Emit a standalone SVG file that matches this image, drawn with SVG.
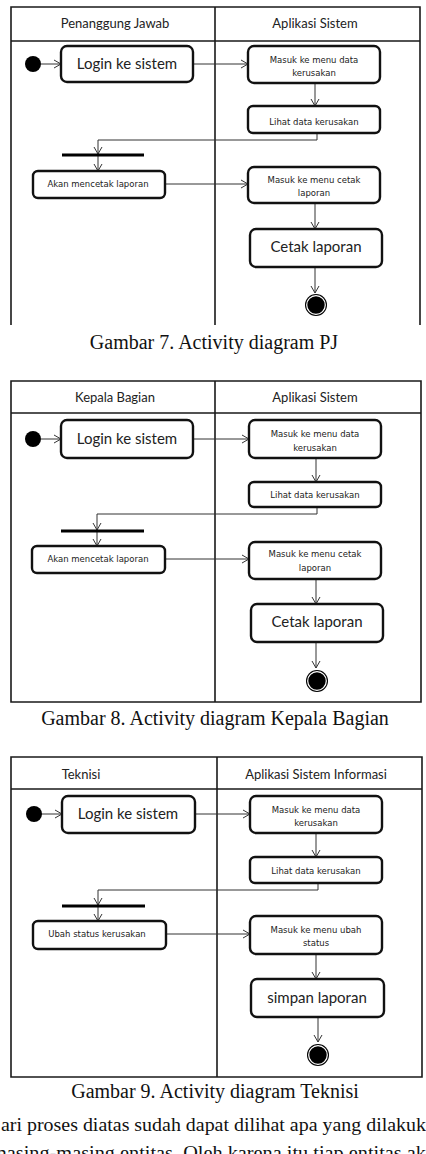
<svg xmlns="http://www.w3.org/2000/svg" width="426" height="1154" viewBox="0 0 426 1154">
<defs>
<marker id="arr" markerWidth="10" markerHeight="10" refX="8" refY="5" orient="auto" markerUnits="userSpaceOnUse">
<path d="M1,1 L8,5 L1,9" fill="none" stroke="#333" stroke-width="1"/>
</marker>
<style>
.frame{fill:none;stroke:#1a1a1a;stroke-width:1.6}
.node{fill:#fff;stroke:#111;stroke-width:2.4}
.conn{fill:none;stroke:#333;stroke-width:1;marker-end:url(#arr)}
.hdr{font-family:Lato,"Open Sans",sans-serif;font-size:13px;fill:#222;text-anchor:middle}
.big{font-family:Lato,"Open Sans",sans-serif;font-size:15px;fill:#222;text-anchor:middle}
.small{font-family:"DejaVu Sans",Verdana,sans-serif;font-size:8.5px;fill:#222;text-anchor:middle}
.cap{font-family:"Liberation Serif","Times New Roman",serif;font-size:20px;fill:#111;text-anchor:middle}
.body{font-family:"Liberation Serif","Times New Roman",serif;font-size:19px;fill:#111}
</style>
</defs>
<rect width="426" height="1154" fill="#fff"/>

<!-- Diagram 1 -->
<g id="diagram1">
<g id="d1-frame">
<path class="frame" d="M11,325 V7 H420 V325 M215,7 V325 M11,41 H420"/>
<text class="hdr" x="115" y="28">Penanggung Jawab</text>
<text class="hdr" x="315" y="28">Aplikasi Sistem</text>
</g>
<g id="d1-connectors">
<line class="conn" x1="41" y1="64" x2="61" y2="64"/>
<line class="conn" x1="193" y1="64" x2="248" y2="64"/>
<line class="conn" x1="315" y1="83" x2="315" y2="106"/>
<polyline class="conn" points="317,133 317,140 98,140 98,154"/>
<line class="conn" x1="98" y1="156" x2="98" y2="171"/>
<line class="conn" x1="165" y1="184" x2="248" y2="184"/>
<line class="conn" x1="315" y1="203" x2="315" y2="229"/>
<line class="conn" x1="315" y1="267" x2="315" y2="293"/>
</g>
<g id="d1-start"><circle cx="33" cy="64" r="8" fill="#000"/></g>
<g id="d1-login"><rect class="node" x="61" y="46" width="132" height="36" rx="6"/><text class="big" x="127" y="69">Login ke sistem</text></g>
<g id="d1-masuk-data"><rect class="node" x="248" y="46" width="132" height="37" rx="6"/><text class="small" x="314" y="63">Masuk ke menu data</text><text class="small" x="314" y="76">kerusakan</text></g>
<g id="d1-lihat"><rect class="node" x="248" y="106" width="132" height="27" rx="5"/><text class="small" x="314" y="125">Lihat data kerusakan</text></g>
<g id="d1-fork"><rect x="62" y="153.5" width="82" height="3" fill="#000"/></g>
<g id="d1-akan"><rect class="node" x="33" y="171" width="132" height="27" rx="5"/><text class="small" x="98" y="187">Akan mencetak laporan</text></g>
<g id="d1-masuk-cetak"><rect class="node" x="248" y="167" width="132" height="36" rx="6"/><text class="small" x="314" y="183">Masuk ke menu cetak</text><text class="small" x="314" y="196">laporan</text></g>
<g id="d1-cetak"><rect class="node" x="250" y="229" width="132" height="38" rx="6"/><text class="big" x="316" y="252">Cetak laporan</text></g>
<g id="d1-end"><circle cx="316" cy="305" r="11" fill="#000"/><circle cx="316" cy="305" r="9.3" fill="none" stroke="#fff" stroke-width="1.2"/></g>
</g>
<text class="cap" x="214" y="349">Gambar 7. Activity diagram PJ</text>

<!-- Diagram 2 -->
<g id="diagram2" transform="translate(0,374)">
<g id="d2-frame">
<path class="frame" d="M11,328 V7 H421 V328 Z M215,7 V328 M11,39 H421"/>
<text class="hdr" x="115" y="28">Kepala Bagian</text>
<text class="hdr" x="315" y="28">Aplikasi Sistem</text>
</g>
<g id="d2-connectors">
<line class="conn" x1="41" y1="65" x2="61" y2="65"/>
<line class="conn" x1="193" y1="65" x2="249" y2="65"/>
<line class="conn" x1="316" y1="84" x2="316" y2="108"/>
<polyline class="conn" points="317,133 317,140 97,140 97,156"/>
<line class="conn" x1="97" y1="158" x2="97" y2="172"/>
<line class="conn" x1="165" y1="185" x2="249" y2="185"/>
<line class="conn" x1="316" y1="205" x2="316" y2="230"/>
<line class="conn" x1="316" y1="268" x2="316" y2="294"/>
</g>
<g id="d2-start"><circle cx="33" cy="65" r="8" fill="#000"/></g>
<g id="d2-login"><rect class="node" x="61" y="46" width="132" height="38" rx="6"/><text class="big" x="127" y="70">Login ke sistem</text></g>
<g id="d2-masuk-data"><rect class="node" x="249" y="46" width="132" height="38" rx="6"/><text class="small" x="315" y="63">Masuk ke menu data</text><text class="small" x="315" y="77">kerusakan</text></g>
<g id="d2-lihat"><rect class="node" x="249" y="108" width="132" height="25" rx="5"/><text class="small" x="315" y="124">Lihat data kerusakan</text></g>
<g id="d2-fork"><rect x="61" y="155.5" width="83" height="3" fill="#000"/></g>
<g id="d2-akan"><rect class="node" x="32" y="172" width="133" height="27" rx="5"/><text class="small" x="98" y="188">Akan mencetak laporan</text></g>
<g id="d2-masuk-cetak"><rect class="node" x="249" y="168" width="132" height="37" rx="6"/><text class="small" x="315" y="183">Masuk ke menu cetak</text><text class="small" x="315" y="197">laporan</text></g>
<g id="d2-cetak"><rect class="node" x="251" y="230" width="132" height="38" rx="6"/><text class="big" x="317" y="253">Cetak laporan</text></g>
<g id="d2-end"><circle cx="317" cy="307" r="11" fill="#000"/><circle cx="317" cy="307" r="9.3" fill="none" stroke="#fff" stroke-width="1.2"/></g>
</g>
<text class="cap" x="215" y="725">Gambar 8. Activity diagram Kepala Bagian</text>

<!-- Diagram 3 -->
<g id="diagram3" transform="translate(0,750)">
<g id="d3-frame">
<path class="frame" d="M11,327 V7 H422 V327 Z M217,7 V327 M11,39 H422"/>
<text class="hdr" x="81" y="29">Teknisi</text>
<text class="hdr" x="316" y="29">Aplikasi Sistem Informasi</text>
</g>
<g id="d3-connectors">
<line class="conn" x1="41" y1="64" x2="62" y2="64"/>
<line class="conn" x1="195" y1="64" x2="250" y2="64"/>
<line class="conn" x1="316" y1="83" x2="316" y2="107"/>
<polyline class="conn" points="318,133 318,140 98,140 98,155"/>
<line class="conn" x1="98" y1="157" x2="98" y2="171"/>
<line class="conn" x1="166" y1="184" x2="250" y2="184"/>
<line class="conn" x1="316" y1="204" x2="316" y2="229"/>
<line class="conn" x1="318" y1="267" x2="318" y2="292"/>
</g>
<g id="d3-start"><circle cx="34" cy="64" r="8" fill="#000"/></g>
<g id="d3-login"><rect class="node" x="62" y="46" width="133" height="37" rx="6"/><text class="big" x="128" y="69">Login ke sistem</text></g>
<g id="d3-masuk-data"><rect class="node" x="250" y="46" width="132" height="37" rx="6"/><text class="small" x="316" y="63">Masuk ke menu data</text><text class="small" x="316" y="76">kerusakan</text></g>
<g id="d3-lihat"><rect class="node" x="250" y="107" width="132" height="26" rx="5"/><text class="small" x="316" y="124">Lihat data kerusakan</text></g>
<g id="d3-fork"><rect x="62" y="154.5" width="83" height="3" fill="#000"/></g>
<g id="d3-ubah"><rect class="node" x="33" y="171" width="133" height="28" rx="5"/><text class="small" x="97" y="187">Ubah status kerusakan</text></g>
<g id="d3-masuk-ubah"><rect class="node" x="250" y="166" width="132" height="38" rx="6"/><text class="small" x="316" y="183">Masuk ke menu ubah</text><text class="small" x="316" y="196">status</text></g>
<g id="d3-simpan"><rect class="node" x="251" y="229" width="133" height="38" rx="6"/><text class="big" x="317" y="253">simpan laporan</text></g>
<g id="d3-end"><circle cx="318" cy="305" r="11" fill="#000"/><circle cx="318" cy="305" r="9.3" fill="none" stroke="#fff" stroke-width="1.2"/></g>
</g>
<text class="cap" x="215" y="1098">Gambar 9. Activity diagram Teknisi</text>

<text class="body" x="1" y="1131" textLength="425" lengthAdjust="spacingAndGlyphs">ari proses diatas sudah dapat dilihat apa yang dilakuk</text>
<text class="body" x="-9" y="1159" textLength="435" lengthAdjust="spacingAndGlyphs">masing-masing entitas. Oleh karena itu tiap entitas ak</text>
</svg>
